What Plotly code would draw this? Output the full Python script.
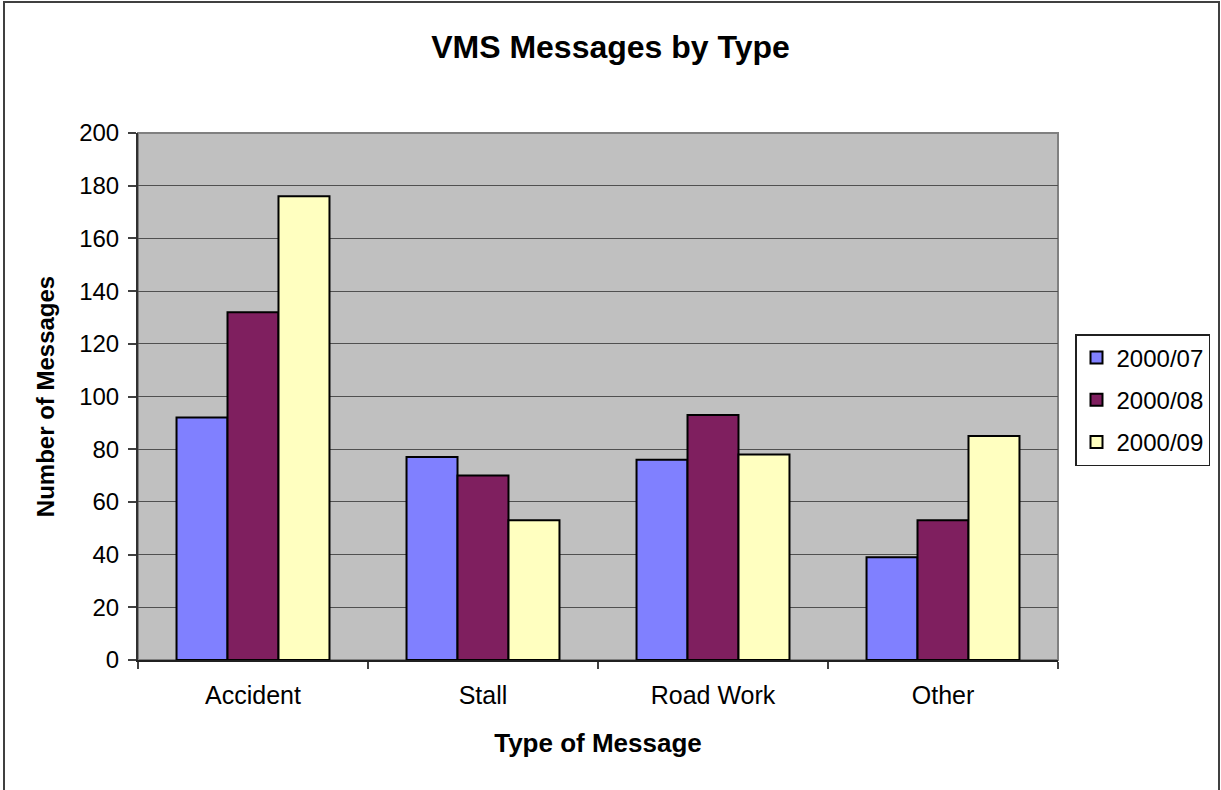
import plotly.graph_objects as go

# data
categories = ["Accident", "Stall", "Road Work", "Other"]
months = ["2000/07", "2000/08", "2000/09"]
msgs_2000_07 = [92, 77, 76, 39]
msgs_2000_08 = [132, 70, 93, 53]
msgs_2000_09 = [176, 53, 78, 85]
y_ticks = [0, 20, 40, 60, 80, 100, 120, 140, 160, 180, 200]

bar_colors = ["#8080FF", "#7F1F5F", "#FFFFC0"]
font_family = "Liberation Sans, Arial, sans-serif"

fig = go.Figure()
for name, vals, col in zip(months, [msgs_2000_07, msgs_2000_08, msgs_2000_09], bar_colors):
    fig.add_trace(go.Bar(
        x=categories, y=vals, name=name, legendgroup=name,
        marker=dict(color=col, line=dict(color="black", width=2)),
    ))

# plot area lives at x 138..1058, y 133..660 of the 1221x790 page
pw, ph = 920, 527
fig.update_layout(
    width=1221, height=790,
    autosize=False,
    margin=dict(l=138, r=163, t=133, b=130, autoexpand=False),
    paper_bgcolor="white",
    plot_bgcolor="#C0C0C0",
    barmode="group",
    bargap=0.335,
    bargroupgap=0,
    font=dict(family=font_family, color="black", size=24),
    title=dict(
        text="<b>VMS Messages by Type</b>",
        x=0.5, xanchor="center", y=1 - 47 / 790, yanchor="middle",
        font=dict(size=32),
    ),
    legend=dict(
        x=(1075 - 138) / pw, xanchor="left",
        y=(660 - 334) / ph, yanchor="top",
        bordercolor="#202020", borderwidth=1.5,
        bgcolor="white",
        font=dict(size=24),
        itemwidth=30,
        traceorder="grouped",
        tracegroupgap=8,
    ),
    showlegend=True,
    shapes=[
        # outer chart border
        dict(type="rect", xref="paper", yref="paper",
             x0=(4 - 138) / pw, x1=(1219 - 138) / pw,
             y0=(660 - 820) / ph, y1=(660 - 2) / ph,
             line=dict(color="#404040", width=2), fillcolor="rgba(0,0,0,0)", layer="below"),
        # grey plot-area frame (top and right)
        dict(type="rect", xref="paper", yref="paper", x0=0, x1=1, y0=0, y1=1,
             line=dict(color="#808080", width=2), fillcolor="rgba(0,0,0,0)", layer="below"),
    ],
)

fig.update_xaxes(
    showgrid=False,
    showline=True, linecolor="#202020", linewidth=2,
    ticks="outside", tickson="boundaries", ticklen=7, tickcolor="#404040", tickwidth=1.5,
    tickfont=dict(size=25),
    ticklabelstandoff=12,
    title=dict(text="<b>Type of Message</b>", font=dict(size=26), standoff=26),
)
fig.update_yaxes(
    range=[0, 200],
    tickvals=y_ticks,
    showgrid=True, gridcolor="#505050", gridwidth=1.3,
    showline=True, linecolor="#303030", linewidth=2,
    ticks="outside", ticklen=8, tickcolor="#404040", tickwidth=1.5,
    tickfont=dict(size=24),
    ticklabelstandoff=4,
    zeroline=False,
    title=dict(text="<b>Number of Messages</b>", font=dict(size=24), standoff=18),
)

# the page adds an 8px body margin and scrollbars; drop them so the figure fills the window
fig.write_html(
    "out.html",
    config={"displayModeBar": False, "responsive": False},
    post_script="document.body.style.margin='0';document.body.style.overflow='hidden';"
                "document.documentElement.style.overflow='hidden';",
)
